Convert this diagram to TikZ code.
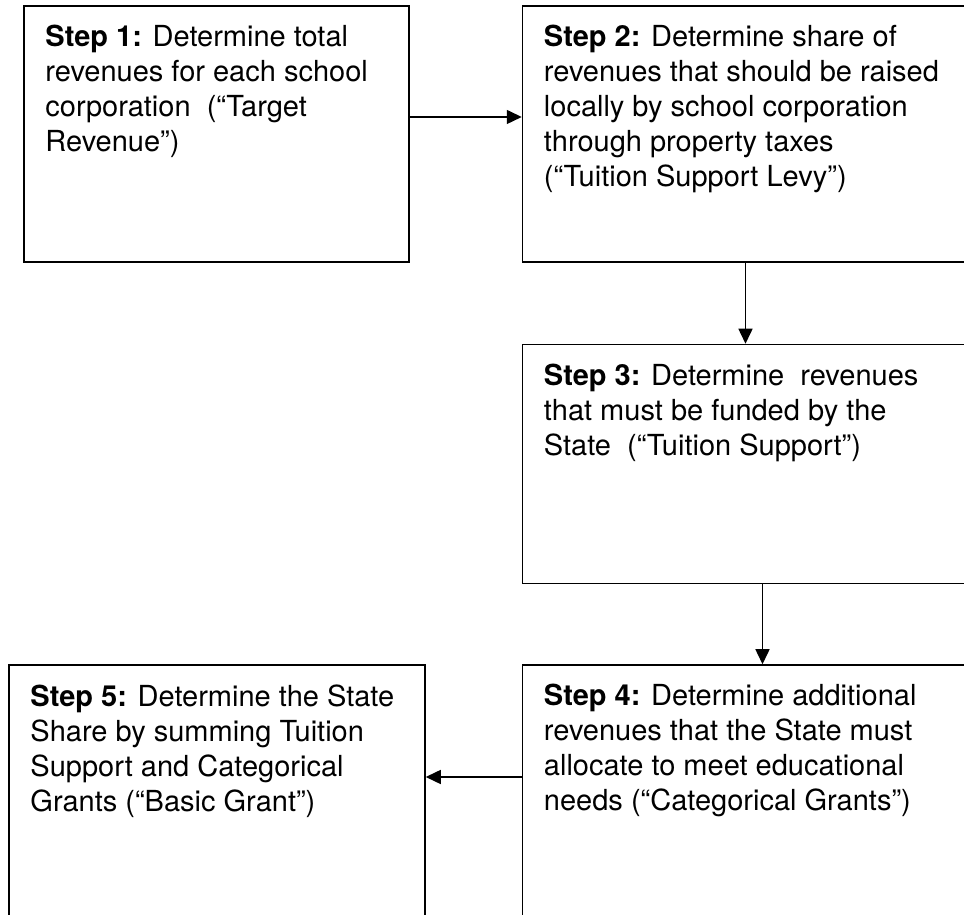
\documentclass[tikz,border=0pt]{standalone}
\usepackage{fontspec}
\setmainfont{TeX Gyre Heros}
\usepackage{tikz}
\usetikzlibrary{arrows.meta,positioning}
\newcommand{\steptext}{\fontsize{29}{35}\selectfont}
\tikzset{
    stepbox/.style={rectangle, draw=black, line width=1.5pt, inner sep=0pt,
                    minimum width=#1},
    steptxt/.style={inner sep=0pt, align=left, font=\steptext},
    arr/.style={-{Triangle[length=15pt,width=14pt]}, line width=1.5pt},
}

\begin{document}
\begin{tikzpicture}[x=1pt, y=1pt]
    \useasboundingbox (0,0) rectangle (964,915);

    % boxes
    \node[stepbox=385pt, minimum height=256pt] at (216.5,781) (box1) {};
    \node[stepbox=446pt, minimum height=256pt, right=112pt of box1] (box2) {};
    \node[stepbox=480pt, minimum height=239pt, below right=81pt and 0pt of box2.south west] (box3) {};
    \node[stepbox=480pt, minimum height=268pt, below right=80pt and 0pt of box3.south west] (box4) {};
    \node[stepbox=416pt, minimum height=268pt, left=96pt of box4] (box5) {};

    % texts
    \node[steptxt, below right=20pt and 22pt of box1.north west] (txt1)
        {\textbf{Step 1:} Determine total\\revenues for each school\\corporation~ (“Target\\Revenue”)};
    \node[steptxt, below right=20pt and 22pt of box2.north west] (txt2)
        {\textbf{Step 2:} Determine share of\\revenues that should be raised\\locally by school corporation\\through property taxes\\(“Tuition Support Levy”)};
    \node[steptxt, below right=20pt and 22pt of box3.north west] (txt3)
        {\textbf{Step 3:} Determine~ revenues\\that must be funded by the\\State~ (“Tuition Support”)};
    \node[steptxt, below right=20pt and 22pt of box4.north west] (txt4)
        {\textbf{Step 4:} Determine additional\\revenues that the State must\\allocate to meet educational\\needs (“Categorical Grants”)};
    \node[steptxt, below right=20pt and 22pt of box5.north west] (txt5)
        {\textbf{Step 5:} Determine the State\\Share by summing Tuition\\Support and Categorical\\Grants (“Basic Grant”)};

    \draw[arr]([yshift=17pt]box1.east)--([yshift=17pt]box1.east -| box2.west);
    \draw[arr](box2.south)--(box2.south |- box3.north);
    \draw[arr](box3.south)--(box3.south |- box4.north);
    \draw[arr]([yshift=22pt]box4.west)--([yshift=22pt]box4.west -| box5.east);
\end{tikzpicture}
\end{document}
